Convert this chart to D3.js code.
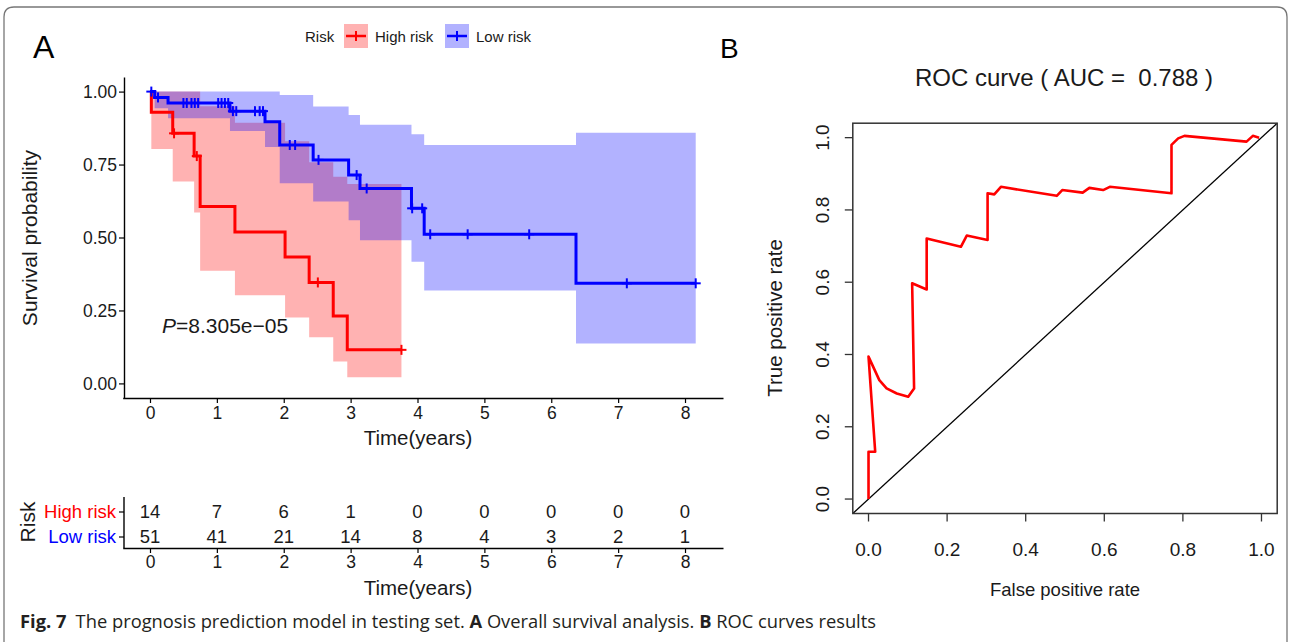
<!DOCTYPE html>
<html><head><meta charset="utf-8">
<script src="https://cdn.jsdelivr.net/npm/d3@7"></script>
<style>
html,body{margin:0;padding:0;background:#fff;}
svg{display:block;font-family:"Liberation Sans",Arial,sans-serif;}
.pre{white-space:pre;}
</style></head>
<body><svg id="c" width="1290" height="642"></svg>
<script>
// ---------------- DATA ----------------
const years = [0,1,2,3,4,5,6,7,8];
const riskGroups = ["High risk","Low risk"];
const groupColors = ["#FF0000","#0000FF"];
const highAtRisk = [14,7,6,1,0,0,0,0,0];
const lowAtRisk  = [51,41,21,14,8,4,3,2,1];

const highTime  = [0, 0.02, 0.34, 0.66, 0.75, 1.27, 2.02, 2.38, 2.74, 2.95];
const highSurv  = [1, 0.929, 0.857, 0.779, 0.606, 0.519, 0.433, 0.346, 0.231, 0.115];
const highUpper = [1, 1, 1, 1, 0.95, 0.893, 0.83, 0.758, 0.708, 0.683];
const highLower = [1, 0.803, 0.692, 0.586, 0.386, 0.302, 0.226, 0.158, 0.075, 0.021];
const highEnd = 3.76;
const highCensor = [0.36, 0.70, 2.51, 3.76];

const lowTime  = [0, 0.07, 0.27, 1.196, 1.72, 1.94, 2.44, 2.97, 3.14, 3.91, 4.10, 6.37];
const lowSurv  = [1, 0.98, 0.961, 0.933, 0.897, 0.817, 0.766, 0.714, 0.668, 0.60, 0.511, 0.343];
const lowUpper = [1, 1, 1, 1, 1, 0.988, 0.949, 0.92, 0.886, 0.854, 0.817, 0.859];
const lowLower = [1, 0.943, 0.909, 0.865, 0.81, 0.686, 0.623, 0.559, 0.491, 0.417, 0.318, 0.137];
const lowEnd = 8.16;
const lowCensor = [0.02, 0.12, 0.50, 0.55, 0.62, 0.67, 0.72, 1.02, 1.07, 1.12, 1.17, 1.24, 1.29,
                   1.57, 1.64, 1.69, 2.09, 2.17, 2.52, 3.09, 3.24, 3.92, 4.07, 4.19, 4.75, 5.67, 7.13, 8.16];

const survTicks = [0, 0.25, 0.5, 0.75, 1];
const pValueText = "=8.305e\u221205";

const rocFpr = [0, 0, 0.017, 0, 0.0275, 0.046, 0.072, 0.101, 0.116, 0.111, 0.148, 0.148, 0.235, 0.25,
                0.303, 0.303, 0.32, 0.337, 0.479, 0.493, 0.545, 0.562, 0.597, 0.614, 0.771, 0.771,
                0.788, 0.804, 0.962, 0.978, 0.994];
const rocTpr = [0, 0.131, 0.131, 0.394, 0.329, 0.306, 0.292, 0.283, 0.306, 0.597, 0.580, 0.721, 0.698, 0.729,
                0.717, 0.846, 0.843, 0.864, 0.839, 0.855, 0.848, 0.861, 0.855, 0.864, 0.846, 0.980,
                0.998, 1.005, 0.989, 1.005, 1.0];
const rocTicks = [0, 0.2, 0.4, 0.6, 0.8, 1.0];
const rocTitle = "ROC curve ( AUC =  0.788 )";

// ---------------- DRAW ----------------
const svg = d3.select("#c");
const FONT = '"Liberation Sans",Arial,sans-serif';
const TXT = "#1a1a1a";

// outer frame (no bottom edge)
svg.append("path")
  .attr("d", "M4,642 L4,17 Q4,7 14,7 L1277,7 Q1287,7 1287,17 L1287,642")
  .attr("fill","none").attr("stroke","#777").attr("stroke-width",1.3);

// panel letters
svg.append("text").attr("x",33).attr("y",58).attr("font-size",32).attr("fill","#000").text("A");
svg.append("text").attr("x",720).attr("y",58).attr("font-size",28).attr("fill","#000").text("B");

// ---------- KM plot ----------
const xKM = d3.scaleLinear().domain([-0.408, 8.568]).range([122.7, 723]);
const yKM = d3.scaleLinear().domain([-0.05, 1.05]).range([398, 77]);

function series(times, vals, end){
  const pts = times.map((t,i)=>({t, v:vals[i]}));
  pts.push({t:end, v:vals[vals.length-1]});
  return pts;
}
function bandSeries(times, lo, up, end){
  const pts = times.map((t,i)=>({t, lo:lo[i], up:up[i]}));
  pts.push({t:end, lo:lo[lo.length-1], up:up[up.length-1]});
  return pts;
}
function stepVal(times, vals, t){
  let v = vals[0];
  for(let i=0;i<times.length;i++){ if(times[i] <= t) v = vals[i]; }
  return v;
}
const area = d3.area().curve(d3.curveStepAfter)
  .x(d=>xKM(d.t)).y0(d=>yKM(d.lo)).y1(d=>yKM(d.up));
const line = d3.line().curve(d3.curveStepAfter).x(d=>xKM(d.t)).y(d=>yKM(d.v));

const groups = [
  {time:highTime, surv:highSurv, lo:highLower, up:highUpper, end:highEnd, cens:highCensor, color:groupColors[0]},
  {time:lowTime,  surv:lowSurv,  lo:lowLower,  up:lowUpper,  end:lowEnd,  cens:lowCensor,  color:groupColors[1]}
];
const km = svg.append("g");
groups.forEach(g=>{
  km.append("path").datum(bandSeries(g.time,g.lo,g.up,g.end))
    .attr("d",area).attr("fill",g.color).attr("fill-opacity",0.3).attr("stroke","none");
});
groups.forEach(g=>{
  km.append("path").datum(series(g.time,g.surv,g.end))
    .attr("d",line).attr("fill","none").attr("stroke",g.color).attr("stroke-width",3);
  const cg = km.append("g");
  g.cens.forEach(t=>{
    const cx = xKM(t), cy = yKM(stepVal(g.time,g.surv,t));
    cg.append("line").attr("x1",cx-5).attr("x2",cx+5).attr("y1",cy).attr("y2",cy)
      .attr("stroke",g.color).attr("stroke-width",2);
    cg.append("line").attr("x1",cx).attr("x2",cx).attr("y1",cy-5).attr("y2",cy+5)
      .attr("stroke",g.color).attr("stroke-width",2);
  });
});

// KM axes
const yAx = svg.append("g").attr("transform","translate(124,0)")
  .call(d3.axisLeft(yKM).tickValues(survTicks).tickFormat(d3.format(".2f")).tickSize(5).tickSizeOuter(0));
const xAx = svg.append("g").attr("transform","translate(0,398)")
  .call(d3.axisBottom(xKM).tickValues(years).tickFormat(d3.format("d")).tickSize(5).tickSizeOuter(0));
[yAx,xAx].forEach(a=>{
  a.select(".domain").attr("stroke","#000").attr("stroke-width",1.4);
  a.selectAll(".tick line").attr("stroke","#000").attr("stroke-width",1.2);
  a.selectAll(".tick text").attr("font-family",FONT).attr("font-size",17.5).attr("fill",TXT);
});
yAx.selectAll(".tick text").attr("x",-7);
xAx.selectAll(".tick text").attr("y",9);

svg.append("text").attr("transform","translate(37,238) rotate(-90)").attr("text-anchor","middle")
  .attr("font-size",21).attr("fill",TXT).text("Survival probability");
svg.append("text").attr("x",418).attr("y",445).attr("text-anchor","middle")
  .attr("font-size",20.5).attr("fill",TXT).text("Time(years)");

// p-value
const pt = svg.append("text").attr("x",162).attr("y",333).attr("font-size",21).attr("fill",TXT);
pt.append("tspan").attr("font-style","italic").text("P");
pt.append("tspan").text(pValueText);

// legend
const lg = svg.append("g");
lg.append("text").attr("x",305).attr("y",42).attr("font-size",15).attr("fill",TXT).text("Risk");
const legX = [344, 445];
riskGroups.forEach((name,i)=>{
  const x0 = legX[i], y0 = 24;
  lg.append("rect").attr("x",x0).attr("y",y0).attr("width",24).attr("height",24)
    .attr("fill",groupColors[i]).attr("fill-opacity",0.3);
  lg.append("line").attr("x1",x0+2).attr("x2",x0+22).attr("y1",y0+12).attr("y2",y0+12)
    .attr("stroke",groupColors[i]).attr("stroke-width",2.5);
  lg.append("line").attr("x1",x0+12).attr("x2",x0+12).attr("y1",y0+7).attr("y2",y0+17)
    .attr("stroke",groupColors[i]).attr("stroke-width",2);
  lg.append("text").attr("x",x0+31).attr("y",42).attr("font-size",15).attr("fill",TXT).text(name);
});

// ---------- risk table ----------
const yTab = d3.scalePoint().domain(riskGroups).range([512, 537]);
const tab = svg.append("g");
const tabAxX = svg.append("g").attr("transform","translate(0,548)")
  .call(d3.axisBottom(xKM).tickValues(years).tickFormat(d3.format("d")).tickSize(5).tickSizeOuter(0));
tabAxX.select(".domain").attr("stroke","#000").attr("stroke-width",1.4);
tabAxX.selectAll(".tick line").attr("stroke","#000").attr("stroke-width",1.2);
tabAxX.selectAll(".tick text").attr("font-family",FONT).attr("font-size",17.5).attr("fill",TXT).attr("y",8);
tab.append("line").attr("x1",124).attr("x2",124).attr("y1",497).attr("y2",548)
  .attr("stroke","#000").attr("stroke-width",1.4);
[highAtRisk, lowAtRisk].forEach((arr,gi)=>{
  const yy = yTab(riskGroups[gi]);
  tab.append("line").attr("x1",119).attr("x2",124).attr("y1",yy).attr("y2",yy)
    .attr("stroke","#000").attr("stroke-width",1.2);
  tab.append("text").attr("x",116).attr("y",yy).attr("dy","0.35em").attr("text-anchor","end")
    .attr("font-size",18.5).attr("fill",groupColors[gi]).text(riskGroups[gi]);
  arr.forEach((n,i)=>{
    tab.append("text").attr("x",xKM(years[i])).attr("y",yy).attr("dy","0.35em")
      .attr("text-anchor","middle").attr("font-size",18.5).attr("fill",TXT).text(n);
  });
});
svg.append("text").attr("transform","translate(35,522) rotate(-90)").attr("text-anchor","middle")
  .attr("font-size",21).attr("fill",TXT).text("Risk");
svg.append("text").attr("x",418).attr("y",595).attr("text-anchor","middle")
  .attr("font-size",20.5).attr("fill",TXT).text("Time(years)");

// ---------- ROC ----------
const xR = d3.scaleLinear().domain([-0.04, 1.04]).range([852.8, 1277.2]);
const yR = d3.scaleLinear().domain([-0.04, 1.04]).range([513.5, 123.2]);
const roc = svg.append("g");
roc.append("line").attr("x1",xR(-0.04)).attr("y1",yR(-0.04)).attr("x2",xR(1.04)).attr("y2",yR(1.04))
  .attr("stroke","#000").attr("stroke-width",1.3);
const rocLine = d3.line().x((d,i)=>xR(rocFpr[i])).y((d,i)=>yR(rocTpr[i]));
roc.append("path").datum(rocFpr).attr("d",rocLine).attr("fill","none")
  .attr("stroke","#FF0000").attr("stroke-width",2.6).attr("stroke-linejoin","round");
roc.append("rect").attr("x",xR(-0.04)).attr("y",yR(1.04))
  .attr("width",xR(1.04)-xR(-0.04)).attr("height",yR(-0.04)-yR(1.04))
  .attr("fill","none").attr("stroke","#333").attr("stroke-width",1.5);
rocTicks.forEach(v=>{
  roc.append("line").attr("x1",xR(v)).attr("x2",xR(v)).attr("y1",yR(-0.04)).attr("y2",yR(-0.04)+8)
    .attr("stroke","#333").attr("stroke-width",1.3);
  roc.append("text").attr("x",xR(v)).attr("y",556).attr("text-anchor","middle")
    .attr("font-size",19).attr("fill",TXT).text(d3.format(".1f")(v));
  roc.append("line").attr("x1",xR(-0.04)-8).attr("x2",xR(-0.04)).attr("y1",yR(v)).attr("y2",yR(v))
    .attr("stroke","#333").attr("stroke-width",1.3);
  roc.append("text").attr("transform",`translate(829,${yR(v)}) rotate(-90)`).attr("text-anchor","middle")
    .attr("font-size",19).attr("fill",TXT).text(d3.format(".1f")(v));
});
svg.append("text").attr("class","pre").attr("x",1064).attr("y",86).attr("text-anchor","middle")
  .attr("font-size",24).attr("fill",TXT).text(rocTitle);
svg.append("text").attr("x",1065).attr("y",596).attr("text-anchor","middle")
  .attr("font-size",18.5).attr("fill",TXT).text("False positive rate");
svg.append("text").attr("transform","translate(782,318) rotate(-90)").attr("text-anchor","middle")
  .attr("font-size",20.5).attr("fill",TXT).text("True positive rate");

// ---------- caption ----------
const cap = svg.append("text").attr("x",20).attr("y",628)
  .attr("font-family",'"Open Sans",sans-serif').attr("font-size",18).attr("fill","#231f20")
  .attr("textLength",856).attr("lengthAdjust","spacingAndGlyphs");
cap.append("tspan").attr("font-weight","bold").text("Fig. 7");
cap.append("tspan").text("\u2002The prognosis prediction model in testing set. ");
cap.append("tspan").attr("font-weight","bold").text("A");
cap.append("tspan").text(" Overall survival analysis. ");
cap.append("tspan").attr("font-weight","bold").text("B");
cap.append("tspan").text(" ROC curves results");
</script></body></html>
